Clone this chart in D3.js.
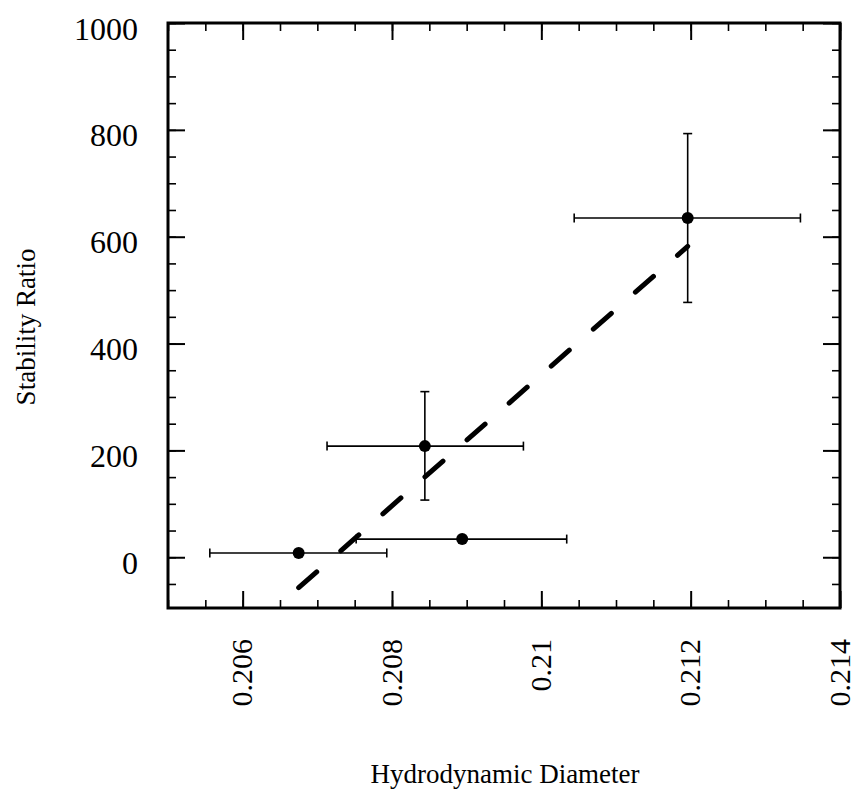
<!DOCTYPE html>
<html>
<head>
<meta charset="utf-8">
<script src="https://cdn.jsdelivr.net/npm/d3@7"></script>
<style>
  body { margin: 0; background: #fff; }
  svg text { font-family: "Liberation Serif", "Times New Roman", serif; fill: #000; }
</style>
</head>
<body>
<div id="container"></div>
<script>
const width = 856;
const height = 790;

// DATA
const diameter = [0.20675, 0.20844, 0.20894, 0.21196];
const stability = [8, 208, 34, 635];
const diameterLow = [0.20556, 0.20713, 0.20752, 0.21044];
const diameterHigh = [0.20793, 0.20976, 0.21034, 0.21347];
const stabilityLow = [null, 107, null, 477];
const stabilityHigh = [null, 310, null, 793];

// fitted line, drawn between first and last point
const fitDiameter = [0.20675, 0.21196];
const fitStability = [-57, 582];

const xTicks = [0.206, 0.208, 0.21, 0.212, 0.214];
const xMinor = d3.range(0, 19).map(i => +(0.205 + i * 0.0005).toFixed(4));
const yTicks = [0, 200, 400, 600, 800, 1000];
const yMinor = d3.range(-50, 1001, 50);

const svg = d3.select("div#container").append("svg")
    .attr("width", width)
    .attr("height", height);

// SCALES
const xScale = d3.scaleLinear().domain([0.205, 0.214]).range([168, 840]);
const yScale = d3.scaleLinear().domain([-95, 1000]).range([608, 23]);

const plotLeft = xScale.range()[0], plotRight = xScale.range()[1];
const plotTop = yScale.range()[1], plotBottom = yScale.range()[0];

// AXES
function styleTicks(g, w) {
    g.select(".domain").remove();
    g.selectAll(".tick line").attr("stroke", "#000").attr("stroke-width", w);
}

// bottom
svg.append("g")
    .attr("transform", "translate(0," + plotBottom + ")")
    .call(d3.axisBottom(xScale).tickValues(xMinor).tickSize(-8).tickFormat(""))
    .call(g => styleTicks(g, 1.6));

const xAxis = svg.append("g")
    .attr("transform", "translate(0," + plotBottom + ")")
    .call(d3.axisBottom(xScale).tickValues(xTicks).tickSize(-17)
        .tickFormat(d => String(+d.toFixed(3))))
    .call(g => styleTicks(g, 2));

xAxis.selectAll(".tick text")
    .attr("y", null)
    .attr("dy", null)
    .attr("transform", "translate(9,31) rotate(-90)")
    .style("text-anchor", "end")
    .style("font-size", "30px");

// top
svg.append("g")
    .attr("transform", "translate(0," + plotTop + ")")
    .call(d3.axisTop(xScale).tickValues(xMinor).tickSize(-8).tickFormat(""))
    .call(g => styleTicks(g, 1.6));
svg.append("g")
    .attr("transform", "translate(0," + plotTop + ")")
    .call(d3.axisTop(xScale).tickValues(xTicks).tickSize(-17).tickFormat(""))
    .call(g => styleTicks(g, 2));

// left
svg.append("g")
    .attr("transform", "translate(" + plotLeft + ",0)")
    .call(d3.axisLeft(yScale).tickValues(yMinor).tickSize(-8).tickFormat(""))
    .call(g => styleTicks(g, 1.6));

const yAxis = svg.append("g")
    .attr("transform", "translate(" + plotLeft + ",0)")
    .call(d3.axisLeft(yScale).tickValues(yTicks).tickSize(-17).tickPadding(30)
        .tickFormat(d3.format("d")))
    .call(g => styleTicks(g, 2));

yAxis.selectAll(".tick text")
    .attr("dy", "16")
    .style("font-size", "32px");

// right
svg.append("g")
    .attr("transform", "translate(" + plotRight + ",0)")
    .call(d3.axisRight(yScale).tickValues(yMinor).tickSize(-8).tickFormat(""))
    .call(g => styleTicks(g, 1.6));
svg.append("g")
    .attr("transform", "translate(" + plotRight + ",0)")
    .call(d3.axisRight(yScale).tickValues(yTicks).tickSize(-17).tickFormat(""))
    .call(g => styleTicks(g, 2));

// FRAME
svg.append("rect")
    .attr("x", plotLeft)
    .attr("y", plotTop)
    .attr("width", plotRight - plotLeft)
    .attr("height", plotBottom - plotTop)
    .attr("fill", "none")
    .attr("stroke", "#000")
    .attr("stroke-width", 3);

// AXIS TITLES
svg.append("text")
    .attr("transform", "translate(35,327) rotate(-90)")
    .style("text-anchor", "middle")
    .style("font-size", "27px")
    .text("Stability Ratio");

svg.append("text")
    .attr("x", 505)
    .attr("y", 783)
    .style("text-anchor", "middle")
    .style("font-size", "27px")
    .text("Hydrodynamic Diameter");

// FIT LINE
const line = d3.line()
    .x(d => xScale(d[0]))
    .y(d => yScale(d[1]));

svg.append("path")
    .datum(fitDiameter.map((d, i) => [d, fitStability[i]]))
    .attr("d", line)
    .attr("fill", "none")
    .attr("stroke", "#000")
    .attr("stroke-width", 5)
    .attr("stroke-linecap", "round")
    .attr("stroke-dasharray", "24,32");

// POINTS
const points = diameter.map((d, i) => ({
    x: d, y: stability[i],
    xl: diameterLow[i], xh: diameterHigh[i],
    yl: stabilityLow[i], yh: stabilityHigh[i]
}));

const cap = 4.5;
const bars = svg.append("g")
    .attr("stroke", "#000")
    .attr("stroke-width", 1.6);

points.forEach(function (p) {
    const cx = xScale(p.x), cy = yScale(p.y);
    const x1 = xScale(p.xl), x2 = xScale(p.xh);
    bars.append("line").attr("x1", x1).attr("x2", x2).attr("y1", cy).attr("y2", cy);
    bars.append("line").attr("x1", x1).attr("x2", x1).attr("y1", cy - cap).attr("y2", cy + cap);
    bars.append("line").attr("x1", x2).attr("x2", x2).attr("y1", cy - cap).attr("y2", cy + cap);
    if (p.yl !== null) {
        const y1 = yScale(p.yl), y2 = yScale(p.yh);
        bars.append("line").attr("x1", cx).attr("x2", cx).attr("y1", y1).attr("y2", y2);
        bars.append("line").attr("x1", cx - cap).attr("x2", cx + cap).attr("y1", y1).attr("y2", y1);
        bars.append("line").attr("x1", cx - cap).attr("x2", cx + cap).attr("y1", y2).attr("y2", y2);
    }
});

svg.selectAll("circle.pt")
    .data(points)
    .enter()
    .append("circle")
    .attr("class", "pt")
    .attr("cx", d => xScale(d.x))
    .attr("cy", d => yScale(d.y))
    .attr("r", 6)
    .attr("fill", "#000");
</script>
</body>
</html>
